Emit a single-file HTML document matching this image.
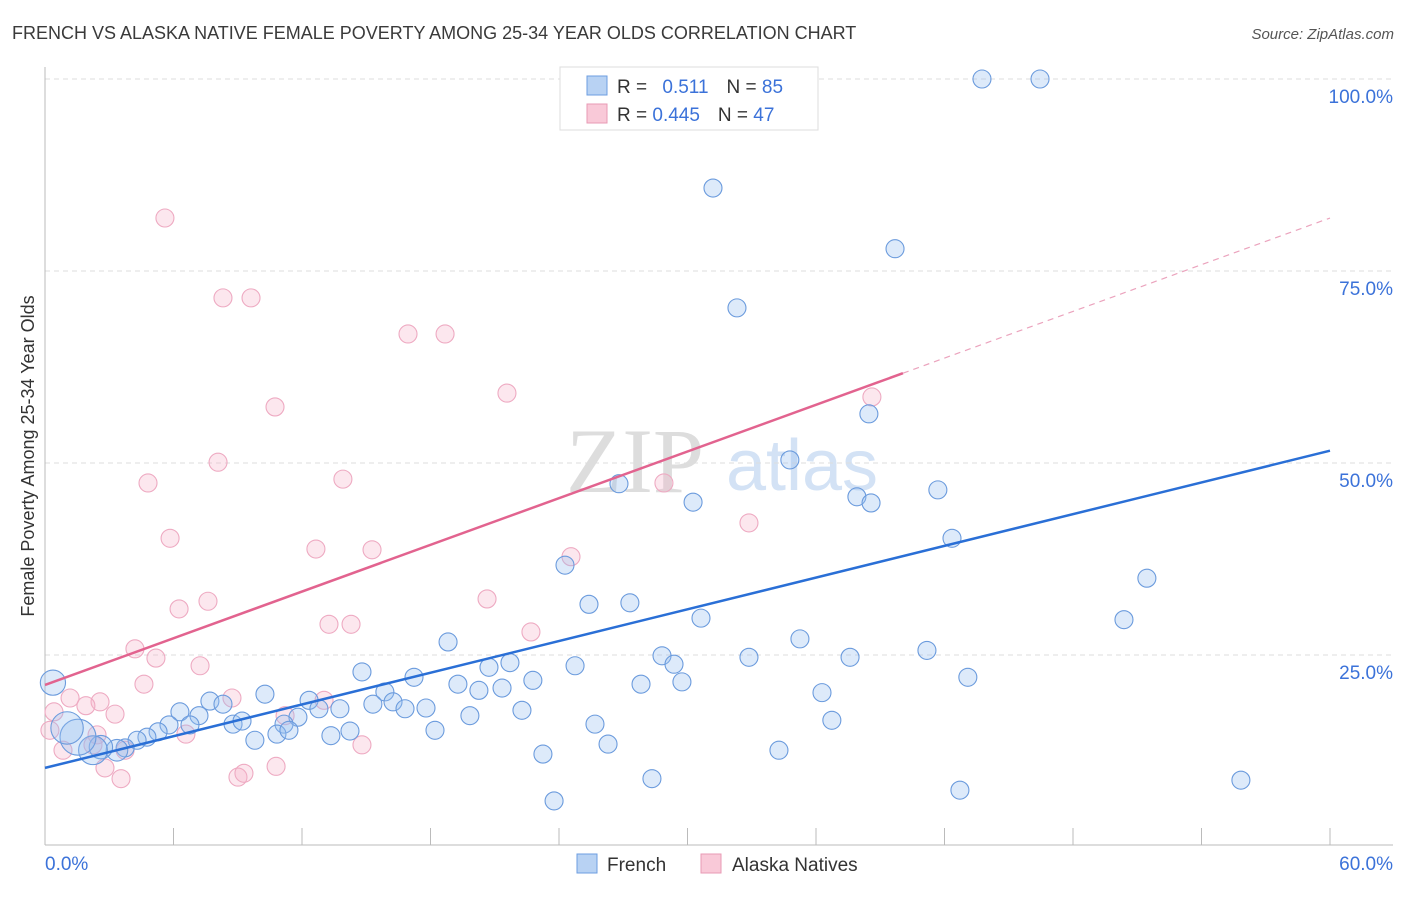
<!DOCTYPE html>
<html><head><meta charset="utf-8"><style>
body{margin:0;background:#fff;font-family:"Liberation Sans",sans-serif}
</style></head><body>
<svg id="chart" width="1406" height="892" xmlns="http://www.w3.org/2000/svg">
<text x="12" y="39" font-size="18" fill="#3a3a3a">FRENCH VS ALASKA NATIVE FEMALE POVERTY AMONG 25-34 YEAR OLDS CORRELATION CHART</text>
<text x="1394" y="39" font-size="15" fill="#555" font-style="italic" text-anchor="end">Source: ZipAtlas.com</text>
<g>
<text x="635" y="492" font-size="92" fill="#ddd" font-family="Liberation Serif,serif" text-anchor="middle">ZIP</text>
<text x="802" y="490" font-size="72" fill="#d3e2f5" text-anchor="middle">atlas</text>
</g>
<g id="grid"></g>
<g id="axes"></g>
<g id="marks"></g>
<text transform="translate(34,456) rotate(-90)" font-size="18" fill="#333" text-anchor="middle">Female Poverty Among 25-34 Year Olds</text>
<g>
<rect x="560" y="67" width="258" height="63" fill="#fff" stroke="#ddd"/>
<rect x="587" y="76" width="20" height="19" fill="#b8d2f3" stroke="#6d9ee0"/>
<rect x="587" y="104" width="20" height="19" fill="#f9c9d8" stroke="#e89ab4"/>
<text x="617" y="93" font-size="19" fill="#333">R = <tspan fill="#3b72d9" dx="10">0.511</tspan><tspan dx="18" fill="#333">N = </tspan><tspan fill="#3b72d9">85</tspan></text>
<text x="617" y="121" font-size="19" fill="#333">R = <tspan fill="#3b72d9">0.445</tspan><tspan dx="18" fill="#333">N = </tspan><tspan fill="#3b72d9">47</tspan></text>
</g>
<g>
<rect x="577" y="854" width="20" height="19" fill="#b8d2f3" stroke="#6d9ee0"/>
<text x="607" y="871" font-size="19" fill="#333">French</text>
<rect x="701" y="854" width="20" height="19" fill="#f9c9d8" stroke="#e89ab4"/>
<text x="732" y="871" font-size="19" fill="#333">Alaska Natives</text>
</g>
</svg>
<script>
const blueX=[43.75,46.46,31.19,39.69,32.31,38.47,34.78,26.80,37.91,38.57,41.69,30.26,42.35,24.28,51.45,25.40,27.31,50.38,30.63,18.82,35.25,28.81,32.87,37.59,41.18,29.37,20.73,21.71,24.75,14.80,17.23,43.09,22.78,27.83,29.74,19.28,15.87,20.26,21.34,36.28,10.27,7.70,12.33,8.31,6.30,7.19,15.31,16.25,17.79,16.81,12.79,13.77,5.79,6.77,11.81,11.16,8.78,9.20,19.84,22.27,18.21,25.68,36.74,5.28,4.76,14.24,13.35,9.80,4.30,3.74,3.36,2.61,2.24,1.54,1.03,0.37,26.29,23.25,34.27,28.34,55.84,42.72,23.77,10.83,11.39];
const blueY=[100,100,85.8,77.9,70.2,56.4,50.4,47.3,45.6,44.8,46.5,44.9,40.2,36.7,35.0,31.6,31.8,29.6,29.8,26.7,27.1,24.9,24.7,24.7,25.6,23.8,23.4,24.0,23.6,22.8,22.1,22.1,21.7,21.2,21.5,21.2,20.2,20.4,20.7,20.1,19.9,19.0,19.1,18.6,17.6,17.1,18.6,18.9,18.1,18.0,18.0,18.0,15.9,15.9,16.9,16.0,16.0,16.4,17.1,17.8,15.2,16.0,16.5,15.0,14.3,15.1,14.5,13.9,13.9,12.9,12.6,13.0,12.6,14.3,15.5,21.4,13.4,12.1,12.6,8.9,8.7,7.4,6.0,14.7,15.2];
const blueSize=[1,1,1,1,1,1,1,1,1,1,1,1,1,1,1,1,1,1,1,1,1,1,1,1,1,1,1,1,1,1,1,1,1,1,1,1,1,1,1,1,1,1,1,1,1,1,1,1,1,1,1,1,1,1,1,1,1,1,1,1,1,1,1,1,1,1,1,1,1,1,1.2,1.3,1.6,2,1.8,1.4,1,1,1,1,1,1,1,1,1];
const pinkX=[5.60,8.31,9.62,16.95,18.68,21.57,38.61,10.74,8.08,4.81,13.91,28.90,32.87,5.84,12.65,15.27,24.56,6.26,7.61,20.64,13.26,14.29,22.69,4.20,5.18,7.24,4.62,8.73,1.17,2.57,1.91,3.27,0.42,0.84,3.74,2.24,11.21,13.03,6.58,14.80,2.80,3.55,9.01,9.29,10.79,0.23,2.43];
const pinkY=[81.9,71.5,71.5,66.8,66.8,59.1,58.6,57.3,50.1,47.4,47.9,47.4,42.2,40.2,38.8,38.7,37.8,31.0,32.0,32.3,29.0,29.0,28.0,25.8,24.6,23.6,21.2,19.4,19.4,18.9,18.4,17.3,17.6,12.6,12.6,13.3,17.1,19.1,14.7,13.3,10.3,8.9,9.1,9.6,10.5,15.2,14.6];
const blueTrend=[10.3,51.6];
const pinkTrend=[21.1,81.9];
const pinkSolidEnd=40.06;
const yTicks=[25,50,75,100];
const yTickLabels=["25.0%","50.0%","75.0%","100.0%"];
const xTicks=[0,6,12,18,24,30,36,42,48,54,60];

const NS="http://www.w3.org/2000/svg";
const xs=v=>45+v/60*1285, ys=v=>847-v/100*768;
function mk(parent,tag,attrs){const e=document.createElementNS(NS,tag);for(const k in attrs)e.setAttribute(k,attrs[k]);document.getElementById(parent).appendChild(e);return e;}
yTicks.forEach((t,i)=>{
 const g=mk('grid','line',{x1:45,x2:1393,y1:ys(t),y2:ys(t),stroke:'#ddd','stroke-dasharray':'5,4'});
 
 
 const l=mk('axes','text',{x:1393,y:ys(t)+24,'font-size':19,fill:'#3b72d9','text-anchor':'end'});
 l.textContent=yTickLabels[i];
 
 
});
const ax=mk('axes','line',{x1:45,x2:45,y1:67,y2:845,stroke:'#bbb'});


const bx=mk('axes','line',{x1:45,x2:1393,y1:845,y2:845,stroke:'#bbb'});


xTicks.forEach(t=>{const tk=mk('axes','line',{x1:xs(t),x2:xs(t),y1:828,y2:845,stroke:'#bbb'});
 
 });
const x0=mk('axes','text',{x:45,y:870,'font-size':19,fill:'#3b72d9'});x0.textContent='0.0%';


const x1=mk('axes','text',{x:1393,y:870,'font-size':19,fill:'#3b72d9','text-anchor':'end'});x1.textContent='60.0%';



pinkX.forEach((x,i)=>{const c=mk('marks','circle',{cx:xs(x),cy:ys(pinkY[i]),r:9,fill:'rgba(246,175,200,0.3)',stroke:'#eeaac2','stroke-width':1.1});
 
 });
blueX.forEach((x,i)=>{const c=mk('marks','circle',{cx:xs(x),cy:ys(blueY[i]),r:9*blueSize[i],fill:'rgba(150,190,240,0.32)',stroke:'#6b9bdd','stroke-width':1.1});
 
 });
const pAt=x=>pinkTrend[0]+(pinkTrend[1]-pinkTrend[0])*x/60;
const pl=mk('marks','line',{x1:xs(0),y1:ys(pinkTrend[0]),x2:xs(pinkSolidEnd),y2:ys(pAt(pinkSolidEnd)),stroke:'#e2638f','stroke-width':2.5});


const pd=mk('marks','line',{x1:xs(pinkSolidEnd),y1:ys(pAt(pinkSolidEnd)),x2:xs(60),y2:ys(pinkTrend[1]),stroke:'#eba3bd','stroke-width':1.2,'stroke-dasharray':'6,5'});


const bl=mk('marks','line',{x1:xs(0),y1:ys(blueTrend[0]),x2:xs(60),y2:ys(blueTrend[1]),stroke:'#2a6fd6','stroke-width':2.5});


</script>
</body></html>
